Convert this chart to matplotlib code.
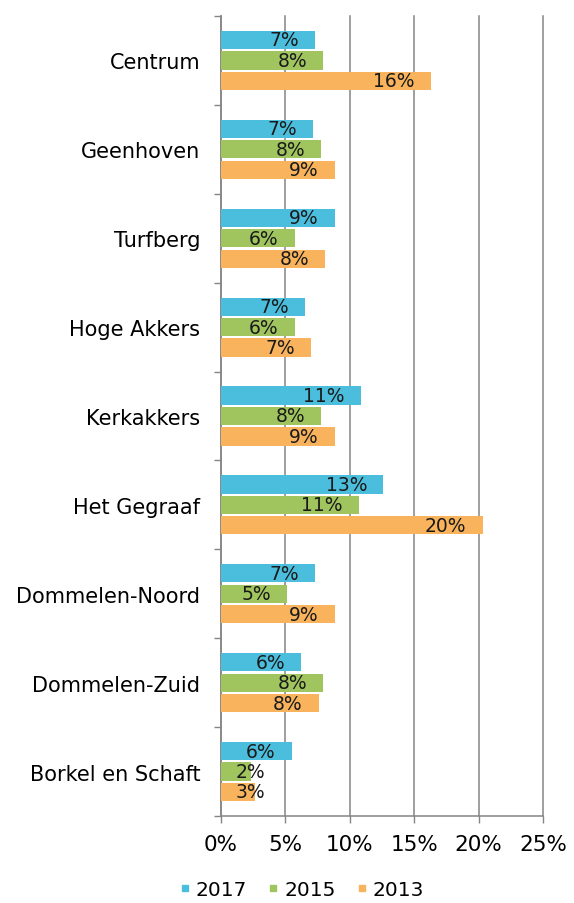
import matplotlib
matplotlib.use("Agg")
import matplotlib.pyplot as plt
from matplotlib.lines import Line2D
import numpy as np

categories = ["Centrum", "Geenhoven", "Turfberg", "Hoge Akkers", "Kerkakkers",
              "Het Gegraaf", "Dommelen-Noord", "Dommelen-Zuid", "Borkel en Schaft"]
series_names = ["2017", "2015", "2013"]
values_2017 = [7.3, 7.15, 8.85, 6.55, 10.85, 12.6, 7.3, 6.25, 5.5]
values_2015 = [7.95, 7.8, 5.75, 5.75, 7.8, 10.7, 5.15, 7.95, 2.35]
values_2013 = [16.3, 8.85, 8.1, 7.0, 8.85, 20.3, 8.85, 7.6, 2.65]
labels_2017 = [7, 7, 9, 7, 11, 13, 7, 6, 6]
labels_2015 = [8, 8, 6, 6, 8, 11, 5, 8, 2]
labels_2013 = [16, 9, 8, 7, 9, 20, 9, 8, 3]
colors = ["#4BBEDD", "#A0C55F", "#F8B35C"]
x_ticks = [0, 5, 10, 15, 20, 25]

plt.rcParams["font.family"] = "DejaVu Sans"
grey = "#858585"

fig = plt.figure(figsize=(5.74, 9.04), dpi=100)
ax = fig.add_axes([220.5 / 574, 1 - 817 / 904, 322.8 / 574, 800 / 904])

y = np.arange(len(categories))
offsets = [-0.23, 0.0, 0.23]
all_vals = [values_2017, values_2015, values_2013]
all_labels = [labels_2017, labels_2015, labels_2013]
for vals, labs, off, col in zip(all_vals, all_labels, offsets, colors):
    bars = ax.barh(y + off, vals, height=0.205, color=col, zorder=3)
    for b, v, lab in zip(bars, vals, labs):
        yc = b.get_y() + b.get_height() / 2
        label = f"{lab}%"
        if v < 4:
            # too short: Excel pushes the label off the axis
            ax.annotate(label, xy=(0, yc), xytext=(15, 0), textcoords="offset pixels",
                        ha="left", va="center", fontsize=13.5, color="#1a1a1a", zorder=4)
        else:
            ax.annotate(label, xy=(v, yc), xytext=(-16, 0), textcoords="offset pixels",
                        ha="right", va="center", fontsize=13.5, color="#1a1a1a", zorder=4)

ax.set_xlim(0, 25)
ax.set_ylim(len(categories) - 0.5, -0.5)
ax.set_xticks(x_ticks)
ax.set_xticklabels([f"{t}%" for t in x_ticks], fontsize=15.5)
ax.tick_params(axis="x", direction="out", length=5, width=1, color=grey, pad=8)

ax.set_yticks(np.arange(-0.5, len(categories), 1.0))
ax.set_yticklabels([])
ax.tick_params(axis="y", which="major", direction="out", length=5, width=1, color=grey)
ax.set_yticks(y, minor=True)
ax.set_yticklabels(categories, minor=True, fontsize=15)
ax.tick_params(axis="y", which="minor", length=0, pad=14.5)

ax.grid(axis="x", color=grey, linewidth=1.1, zorder=0)
ax.set_axisbelow(True)
for line in ax.get_xgridlines():
    line.set_clip_on(False)
for s in ["top", "right"]:
    ax.spines[s].set_visible(False)
for s in ["left", "bottom"]:
    ax.spines[s].set_color(grey)
    ax.spines[s].set_linewidth(1.1)

handles = [Line2D([], [], marker="s", linestyle="none", markersize=5,
                  markerfacecolor=c, markeredgecolor=c) for c in colors]
fig.legend(handles, series_names, loc="center", bbox_to_anchor=(302 / 574, 1 - 891 / 904),
           ncol=3, frameon=False, fontsize=14.5, handlelength=0.5, handletextpad=0.3,
           columnspacing=1.05, borderpad=0)

fig.savefig("out.png", dpi=100)
